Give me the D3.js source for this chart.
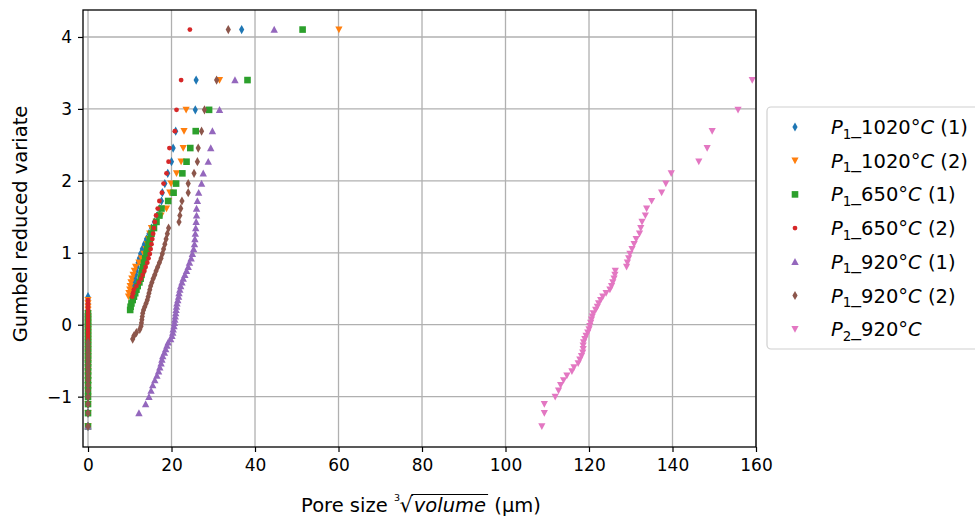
<!DOCTYPE html>
<html><head><meta charset="utf-8">
<script src="https://cdn.jsdelivr.net/npm/d3@7"></script>
<style>body{margin:0;background:#fff} text{font-family:"DejaVu Sans",sans-serif;fill:#000}</style>
</head><body><svg id="c" width="975" height="519"></svg>
<script>
// Gumbel reduced variate for each rank (n = 60)
const gumbelY = [-1.414,-1.229,-1.103,-1.002,-0.917,-0.841,-0.772,-0.709,-0.649,-0.592,
-0.538,-0.486,-0.436,-0.387,-0.339,-0.291,-0.245,-0.199,-0.154,-0.109,
-0.064,-0.020,0.025,0.070,0.114,0.159,0.205,0.250,0.296,0.343,
0.390,0.438,0.487,0.537,0.588,0.640,0.693,0.748,0.804,0.863,
0.923,0.986,1.051,1.119,1.191,1.265,1.344,1.429,1.518,1.615,
1.720,1.835,1.962,2.104,2.266,2.456,2.691,2.987,3.401,4.103];

const xTicks = [0,20,40,60,80,100,120,140,160];
const yTicks = [-1,0,1,2,3,4];

const p1_1020_1 = [0,0,0,0,0,0,0,0,0,0, 0,0,0,0,0,0,0,0,0,0, 0,0,0,0,0,0,0,0,0,0, 0,
10.4,10.6,10.8,11.0,11.2,11.4,11.6,11.8,12.0,12.3,12.6,13.0,13.5,14.0,14.6,15.2,15.9,16.6,17.2,17.6,17.8,18.4,19.1,20.0,20.4,21.0,25.7,25.9,36.8];
const p1_1020_2 = [0,0,0,0,0,0,0,0,0,0, 0,0,0,0,0,0,0,0,0,0, 0,0,0,0,0,0,0,0,0,0,
9.7,9.8,10.0,10.1,10.3,10.5,10.8,11.1,11.4,12.2,12.8,13.4,13.9,14.2,14.5,14.8,15.2,16.3,17.5,18.8,19.3,19.6,19.9,21.2,22.3,22.8,23.0,23.5,31.5,60.1];
const p1_650_1 = [0,0,0,0,0,0,0,0,0,0, 0,0,0,0,0,0,0,0,0,0, 0,0,0,0,0,0,
10.1,10.2,10.4,10.7,11.0,11.3,11.6,11.9,12.3,12.6,12.8,13.0,13.2,13.4,13.7,14.0,14.2,14.5,14.8,15.2,15.8,16.4,17.1,17.6,19.2,20.5,21.1,22.6,23.6,24.5,25.8,29.0,38.2,51.4];
const p1_650_2 = [0,0,0,0,0,0,0,0,0,0, 0,0,0,0,0,0,0,0,0,0, 0,0,0,0,0,0,0,0,0,0,
10.6,10.8,11.0,11.6,12.2,12.7,13.1,13.5,13.8,14.2,14.5,14.8,15.0,15.2,15.4,15.6,15.8,16.0,16.3,16.7,17.1,17.7,18.1,18.8,19.3,19.5,20.8,21.2,22.3,24.4];
const p1_920_1 = [0,
12.2,13.8,14.6,15.1,15.5,16.0,16.5,16.9,17.2,17.5,17.7,17.9,18.3,18.6,18.9,19.2,19.8,20.1,20.3,20.4,20.6,20.7,20.8,20.9,21.0,21.1,21.2,21.3,21.5,21.7,21.8,22.0,22.2,22.5,22.8,23.2,23.6,24.0,24.3,24.7,25.0,25.3,25.5,25.6,25.7,25.8,25.9,26.0,26.0,26.2,26.5,27.2,27.6,28.8,29.4,29.8,31.5,35.2,44.6];
const p1_920_2 = [0,0,0,0,0,0,0,0,0,0, 0,0,0,0,0,0,0,
10.7,11.0,11.6,12.4,12.7,12.8,12.9,13.0,13.1,13.3,13.6,13.9,14.2,14.4,14.6,14.8,15.0,15.3,15.6,16.0,16.3,16.7,17.1,17.5,17.8,18.1,18.4,18.7,19.0,19.3,21.8,22.0,22.2,22.5,24.0,24.0,25.4,26.2,26.4,27.2,27.9,30.8,33.6];
const p2_920 = [108.7,109.3,109.3,111.9,112.7,113.2,113.9,114.7,115.9,116.4,
117.4,117.8,118.2,118.5,118.6,118.6,118.7,119.0,119.3,119.7,
120.0,120.2,120.4,120.6,120.8,121.0,121.6,122.0,122.3,122.8,
123.3,124.1,125.0,125.4,125.7,126.0,126.2,126.3,129.0,129.2,
129.5,129.8,130.3,130.8,131.3,132.1,132.4,132.7,133.5,133.8,
135.0,137.4,138.4,139.7,146.3,148.3,149.5,155.7,159.1];

const seriesLabels = [
  {pre:"1", mid:"_1020°", post:"\u00A0(1)"},
  {pre:"1", mid:"_1020°", post:"\u00A0(2)"},
  {pre:"1", mid:"_650°", post:"\u00A0(1)"},
  {pre:"1", mid:"_650°", post:"\u00A0(2)"},
  {pre:"1", mid:"_920°", post:"\u00A0(1)"},
  {pre:"1", mid:"_920°", post:"\u00A0(2)"},
  {pre:"2", mid:"_920°", post:""}
];
const seriesX = [p1_1020_1, p1_1020_2, p1_650_1, p1_650_2, p1_920_1, p1_920_2, p2_920];
const colors = ["#1f77b4","#ff7f0e","#2ca02c","#d62728","#9467bd","#8c564b","#e377c2"];
const shapes = ["thin_diamond","tri_down","square","dot","tri_up","thin_diamond","tri_down"];

const marker = {
  thin_diamond: "M0,-4.6L2.6,0L0,4.6L-2.6,0Z",
  tri_down: "M-3.6,-3.1L3.6,-3.1L0,3.6Z",
  tri_up: "M-3.7,3.1L3.7,3.1L0,-3.8Z",
  square: "M-3.3,-3.3H3.3V3.3H-3.3Z",
  dot: "M2.4,0A2.4,2.4 0 1,1 -2.4,0A2.4,2.4 0 1,1 2.4,0Z"
};

const svg = d3.select("#c");
const L = 83, R = 756, T = 10, B = 447;
const x = d3.scaleLinear().domain([-1.2, 160]).range([L, R]);
const y = d3.scaleLinear().domain([-1.70, 4.375]).range([B, T]);

svg.append("defs").append("clipPath").attr("id","clip")
  .append("rect").attr("x",L).attr("y",T).attr("width",R-L).attr("height",B-T);

// grid
const grid = svg.append("g");
grid.selectAll("line.gx").data(xTicks).join("line").attr("class","gx")
  .attr("x1",d=>x(d)).attr("x2",d=>x(d)).attr("y1",T).attr("y2",B)
  .attr("stroke","#b0b0b0").attr("stroke-width",1.3);
grid.selectAll("line.gy").data(yTicks).join("line").attr("class","gy")
  .attr("y1",d=>y(d)).attr("y2",d=>y(d)).attr("x1",L).attr("x2",R)
  .attr("stroke","#b0b0b0").attr("stroke-width",1.3);

// axes
const fmt = d => d < 0 ? "\u2212" + Math.abs(d) : String(d);
const xAxis = svg.append("g").attr("transform",`translate(0,${B})`)
  .call(d3.axisBottom(x).tickValues(xTicks).tickSize(5).tickPadding(7).tickFormat(fmt));
const yAxis = svg.append("g").attr("transform",`translate(${L},0)`)
  .call(d3.axisLeft(y).tickValues(yTicks).tickSize(5).tickPadding(6).tickFormat(fmt));
[xAxis, yAxis].forEach(a => {
  a.select(".domain").remove();
  a.selectAll(".tick line").attr("stroke","#000").attr("stroke-width",1.2);
  a.selectAll(".tick text").attr("font-size",17).attr("font-family","DejaVu Sans").attr("fill","#000");
});

// points
const pts = svg.append("g").attr("clip-path","url(#clip)");
seriesX.forEach((xs, s) => {
  const data = xs.map((v, i) => ({x: v, y: gumbelY[i]}));
  pts.append("g").selectAll("path").data(data).join("path")
    .attr("d", marker[shapes[s]])
    .attr("transform", d => `translate(${x(d.x)},${y(d.y)})`)
    .attr("fill", colors[s]);
});

// frame
svg.append("rect").attr("x",L).attr("y",T).attr("width",R-L).attr("height",B-T)
  .attr("fill","none").attr("stroke","#000").attr("stroke-width",1.3);

// y label
svg.append("text").attr("transform","translate(27,224) rotate(-90)")
  .attr("text-anchor","middle").attr("font-size",19.5).text("Gumbel reduced variate");

// x label with cube root (single text element)
const base = 512;
const xl = svg.append("text").attr("x", 421).attr("y", base).attr("text-anchor","middle").attr("font-size", 19.5);
xl.append("tspan").text("Pore size\u00A0");
xl.append("tspan").attr("font-size", 9.5).attr("dy", -11).text("3");
xl.append("tspan").attr("font-size", 21).attr("dy", 11).attr("dx", -0.5).text("\u221A");
xl.append("tspan").attr("font-style","italic").attr("dx", 1).text("volume");
xl.append("tspan").attr("dx", 2).text("\u00A0(\u00B5m)");
const xn = xl.node();
const ovStart = xn.getEndPositionOfChar(11).x - 1.5;
const ovEnd = xn.getEndPositionOfChar(17).x + 2;
svg.append("line").attr("x1", ovStart).attr("x2", ovEnd).attr("y1", base - 17.5).attr("y2", base - 17.5)
  .attr("stroke","#000").attr("stroke-width",1.1);

// legend
const lg = svg.append("g");
lg.append("rect").attr("x",767).attr("y",107).attr("width",230).attr("height",242).attr("rx",4)
  .attr("fill","#fff").attr("fill-opacity",0.8).attr("stroke","#d0d0d0").attr("stroke-width",1.2);
seriesLabels.forEach((lab, s) => {
  const yy = 127 + s * 33.7;
  lg.append("path").attr("d", marker[shapes[s]]).attr("fill", colors[s])
    .attr("transform", `translate(795,${yy})`);
  const t = lg.append("text").attr("x", 831).attr("y", yy + 7).attr("font-size", 19.5);
  t.append("tspan").attr("font-style","italic").text("P");
  t.append("tspan").attr("font-size", 13.5).attr("dy", 4.5).text(lab.pre);
  t.append("tspan").attr("dy", -4.5).text(lab.mid);
  t.append("tspan").attr("font-style","italic").text("C");
  if (lab.post) t.append("tspan").text(lab.post);
});
</script></body></html>
